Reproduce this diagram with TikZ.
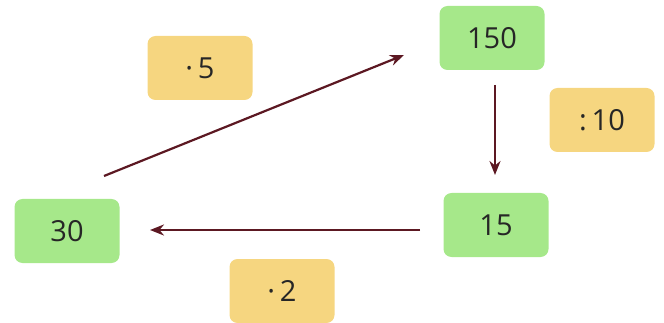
\documentclass[tikz,border=0pt]{standalone}
\usepackage{fontspec}
\setmainfont{Open Sans}
\usetikzlibrary{arrows.meta}
\definecolor{boxgreen}{RGB}{166,232,138}
\definecolor{boxyellow}{RGB}{246,214,128}
\definecolor{arrowcol}{RGB}{92,24,34}
\tikzset{
  numbox/.style={fill=boxgreen, rounded corners=8pt, minimum width=105pt, minimum height=64pt, inner sep=0pt, font=\fontsize{29}{30}\selectfont, text=black!85},
  opbox/.style={fill=boxyellow, rounded corners=8pt, minimum width=105pt, minimum height=64pt, inner sep=0pt, font=\fontsize{29}{30}\selectfont, text=black!85},
  conn/.style={draw=arrowcol, line width=2.2pt, -{Stealth[length=14pt,width=11pt]}}
}
\begin{document}
\begin{tikzpicture}[x=1pt,y=-1pt]
\useasboundingbox (0,0) rectangle (664,323);
\node[numbox] (n150) at (492,38) {150};
\node[numbox] (n15) at (496,225) {15};
\node[numbox] (n30) at (67,231) {30};
\node[opbox] (m5) at (200,68) {·\,5};
\node[opbox] (d10) at (602,120) {:\,10};
\node[opbox] (m2) at (282,291) {·\,2};
\draw[conn] ([shift={(37,-55)}]n30.center) -- ([shift={(-88,17)}]n150.center);
\draw[conn] ([shift={(3,47)}]n150.center) -- ([shift={(-1,-50)}]n15.center);
\draw[conn] ([shift={(-76,5)}]n15.center) -- ([shift={(83,-1)}]n30.center);
\end{tikzpicture}
\end{document}
